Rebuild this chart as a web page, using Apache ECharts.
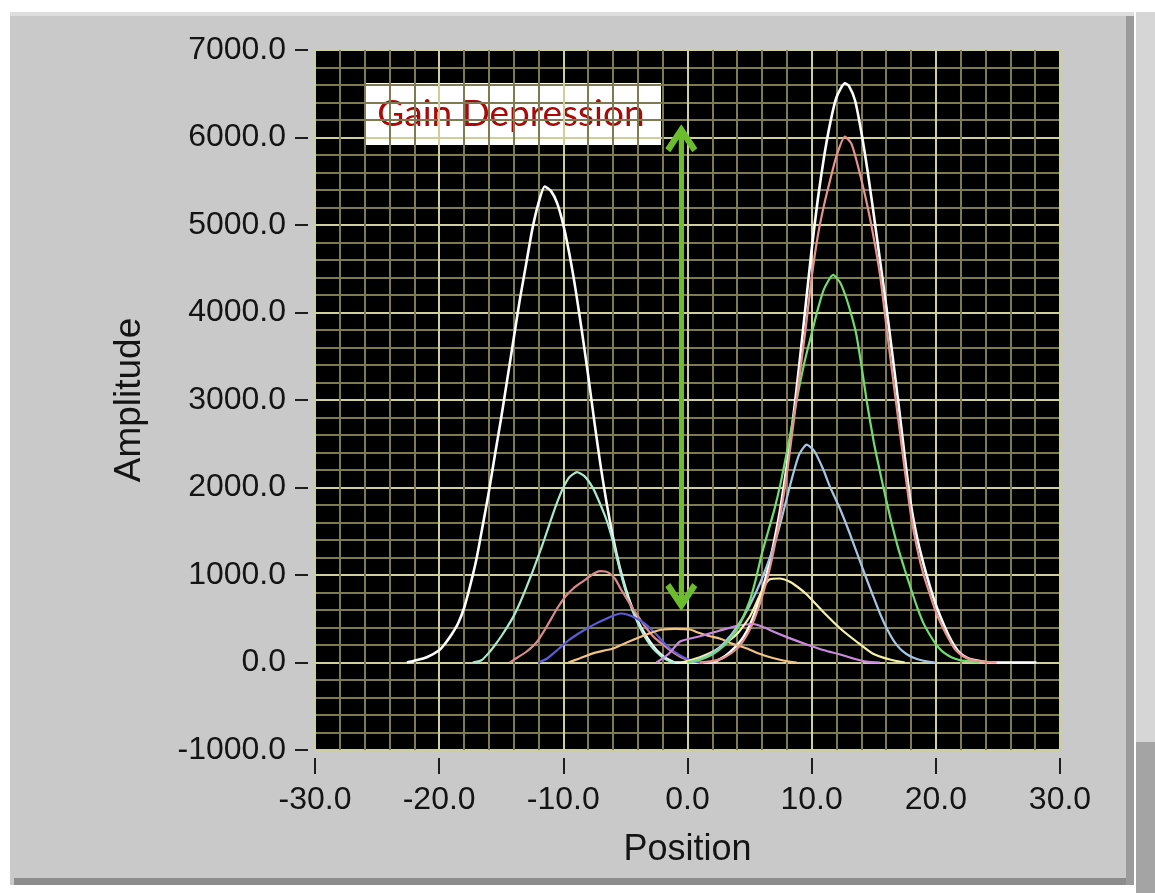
<!DOCTYPE html>
<html>
<head>
<meta charset="utf-8">
<script src="https://cdn.jsdelivr.net/npm/echarts@6/dist/echarts.min.js"></script>
<style>
  html, body { margin: 0; padding: 0; background: #ffffff; }
  #chart { width: 1155px; height: 893px; }
</style>
</head>
<body>
<div id="chart"></div>
<script>
// Axis ranges and steps
const xRange = [-30, 30];
const xStep = 10;
const yRange = [-1000, 7000];
const yStep = 1000;

// Traces: [position, amplitude]
const traceWhite = [
  [-22.6, 0], [-22, 20], [-21, 60], [-20, 140], [-19.5, 220], [-19, 320], [-18.5, 440],
  [-18, 620], [-17.5, 880], [-17, 1180], [-16.5, 1560], [-16, 1950], [-15.5, 2380],
  [-15, 2800], [-14.5, 3250], [-14, 3700], [-13.5, 4150], [-13, 4550], [-12.5, 4950],
  [-12, 5250], [-11.5, 5440], [-11, 5390], [-10.5, 5250], [-10, 5000], [-9.5, 4660],
  [-9, 4250], [-8.5, 3780], [-8, 3280], [-7.5, 2750], [-7, 2250], [-6.5, 1810], [-6, 1430],
  [-5.5, 1110], [-5, 850], [-4.5, 640], [-4, 470], [-3.5, 340], [-3, 230], [-2.5, 140],
  [-2, 75], [-1.5, 30], [-1, 0], [2, 0],
  [2.5, 30], [3, 70], [3.5, 130], [4, 200], [4.5, 290], [5, 420], [5.5, 600], [6, 820],
  [6.5, 1080], [7, 1400], [7.5, 1780], [8, 2250], [8.5, 2780], [9, 3400], [9.5, 4060],
  [10, 4720], [10.5, 5300], [11, 5780], [11.5, 6170], [12, 6460], [12.67, 6620], [13, 6590],
  [13.5, 6420], [14, 6060], [14.5, 5620], [15, 5120], [15.5, 4600], [16, 4080], [16.5, 3520],
  [17, 2950], [17.5, 2350], [18, 1800], [18.5, 1420], [19, 1130], [19.5, 880], [20, 660],
  [20.5, 480], [21, 320], [21.5, 190], [22, 100], [22.5, 55], [23, 30], [24, 5], [24.5, 0],
  [28.1, 0]
];
const traceMint = [
  [-17.3, 0], [-16.6, 25], [-16, 110], [-15.5, 200], [-15, 300], [-14.5, 410], [-14, 530],
  [-13.5, 680], [-13, 850], [-12.5, 1030], [-12, 1220], [-11.5, 1420], [-11, 1630],
  [-10.5, 1830], [-10, 2000], [-9.5, 2120], [-8.9, 2175], [-8.3, 2130], [-7.6, 1990],
  [-7, 1800], [-6.5, 1620], [-6, 1380], [-5.5, 1090], [-5, 830], [-4.5, 620], [-4, 450],
  [-3.5, 310], [-3, 200], [-2.5, 120], [-2, 60], [-1.5, 20], [-1, 0]
];
const tracePink = [
  [-14.3, 0], [-14, 30], [-13, 120], [-12.1, 240], [-11.3, 420], [-10.5, 617], [-9.8, 760],
  [-9.2, 846], [-8.6, 910], [-8.1, 960], [-7.5, 1020], [-7.05, 1045], [-6.6, 1040],
  [-6.25, 1017], [-5.8, 950], [-5.4, 846], [-4.9, 730], [-4.4, 617], [-3.8, 490],
  [-3.3, 389], [-2.7, 290], [-2, 206], [-1.3, 130], [-0.5, 60], [0.3, 20], [1, 0]
];
const traceBlue = [
  [-12, 0], [-11.3, 46], [-10.5, 140], [-9.7, 240], [-8.9, 320], [-8.1, 389], [-7.3, 450],
  [-6.5, 503], [-5.9, 540], [-5.4, 560], [-4.8, 545], [-4.1, 503], [-3.5, 450], [-3, 389],
  [-2.5, 320], [-2, 240], [-1.4, 160], [-0.7, 90], [0, 40], [0.7, 10], [1.3, 0]
];
const tracePeach = [
  [-9.6, 0], [-8.7, 46], [-7.5, 110], [-6, 160], [-4.7, 240], [-3.3, 320], [-2.5, 360],
  [-2, 377], [-1, 385], [0.2, 377], [0.9, 340], [1.8, 300], [2.6, 274], [3.7, 210],
  [4.8, 160], [5.8, 100], [6.8, 55], [7.8, 20], [8.8, 0]
];
const traceViolet = [
  [-2.5, 0], [-1.5, 100], [-0.6, 240], [1, 300], [2.5, 360], [4, 420], [5.3, 440], [6.2, 400],
  [6.9, 354], [8, 290], [9.6, 206], [11, 140], [12.3, 91], [13.5, 40], [14.4, 10], [15.5, 0]
];
const traceYellow = [
  [-0.5, 0], [1, 60], [2.5, 160], [4, 330], [5, 520], [5.8, 760], [6.3, 900], [6.6, 949],
  [7.4, 960], [8.2, 926], [8.9, 860], [9.6, 777], [10.9, 583], [12.3, 389], [13.6, 240],
  [14.9, 103], [16.3, 34], [17.5, 0]
];
const traceSky = [
  [0, 0], [1, 40], [2, 110], [3, 230], [4, 410], [5, 650], [6, 960], [7, 1350], [7.5, 1600],
  [8, 1880], [8.5, 2150], [9, 2380], [9.6, 2490], [10.2, 2420], [10.9, 2217], [11.5, 2000],
  [12.27, 1760], [13, 1500], [13.6, 1269], [14.3, 1000], [14.9, 777], [15.5, 560],
  [16.05, 389], [16.6, 250], [17.1, 160], [17.6, 100], [18.2, 55], [19, 20], [20, 0]
];
const traceGreen = [
  [0, 0], [1, 30], [2, 90], [3, 200], [4, 380], [5, 700], [5.5, 950], [6, 1250], [6.5, 1500],
  [7, 1750], [7.5, 2050], [8, 2400], [8.5, 2780], [9, 3150], [9.5, 3480], [10, 3760],
  [10.5, 4040], [11, 4270], [11.73, 4430], [12.3, 4340], [12.8, 4160], [13.3, 3920],
  [13.6, 3745], [14, 3400], [14.44, 2983], [15, 2520], [15.5, 2180], [16, 1860],
  [16.5, 1560], [17, 1290], [17.5, 1060], [18, 840], [18.5, 630], [19, 450], [19.5, 320],
  [20, 210], [20.5, 130], [21, 80], [21.5, 45], [22, 25], [23, 10], [23.5, 0]
];
const traceSalmon = [
  [1, 0], [2, 15], [3, 60], [4, 160], [4.5, 250], [5, 370], [5.5, 540], [6, 750], [6.5, 1000],
  [7, 1320], [7.5, 1700], [8, 2150], [8.5, 2700], [9, 3250], [9.5, 3800], [10, 4400],
  [10.5, 4880], [11, 5230], [11.5, 5520], [12, 5790], [12.67, 6010], [13.2, 5930],
  [13.9, 5577], [14.7, 5074], [15.5, 4434], [16, 3863], [16.5, 3300], [17, 2750], [17.5, 2200],
  [18, 1680], [18.5, 1300], [19, 1010], [19.5, 790], [20, 580], [20.5, 420], [21, 280],
  [21.5, 160], [22, 90], [22.5, 50], [23, 25], [24, 8], [24.9, 0]
];

// Gain depression marker: from the depressed level up to the peak level
const gainArrow = [[-0.5, 5980], [-0.5, 760]];

const traces = [
  { data: traceWhite, color: '#ffffff', width: 2.6 },
  { data: traceMint, color: '#a6ead0', width: 2.2 },
  { data: tracePink, color: '#d98a8a', width: 2.2 },
  { data: traceBlue, color: '#5c5cd8', width: 2.2 },
  { data: tracePeach, color: '#f0c284', width: 2.2 },
  { data: traceViolet, color: '#c88ae0', width: 2.2 },
  { data: traceYellow, color: '#f4f2a8', width: 2.2 },
  { data: traceSky, color: '#a4c6e6', width: 2.2 },
  { data: traceGreen, color: '#70dc70', width: 2.2 },
  { data: traceSalmon, color: '#e8928e', width: 2.2 }
];

const labelFont = "'Liberation Sans', Arial, sans-serif";
const chevron = 'path://M16,0 L32,24 L27,28 L18.5,15 L18.5,30 L13.5,30 L13.5,15 L5,28 L0,24 Z';

const chart = echarts.init(document.getElementById('chart'), null, { renderer: 'canvas' });

const series = traces.map(t => ({
  type: 'line',
  data: t.data,
  showSymbol: false,
  smooth: 0.2,
  lineStyle: { color: t.color, width: t.width },
  itemStyle: { color: t.color },
  silent: true,
  animation: false
}));

series.push({
  type: 'line',
  data: [],
  silent: true,
  animation: false,
  markLine: {
    silent: true,
    animation: false,
    symbol: [chevron, chevron],
    symbolSize: [32, 30],
    label: { show: false },
    lineStyle: { color: '#6cbd2e', width: 5, type: 'solid' },
    data: [[{ coord: gainArrow[0] }, { coord: gainArrow[1] }]]
  }
});

const axisCommon = {
  type: 'value',
  axisLine: { show: false, onZero: false },
  splitLine: { show: true, lineStyle: { color: '#cfcf9c', width: 2 } },
  minorTick: { show: false, splitNumber: 5 },
  minorSplitLine: { show: true, lineStyle: { color: '#7e7b52', width: 2 } }
};

chart.setOption({
  backgroundColor: '#ffffff',
  animation: false,
  graphic: [
    { type: 'rect', z: -10, shape: { x: 10, y: 12, width: 1124, height: 873 }, style: { fill: '#c9c9c9' } },
    { type: 'rect', z: -9, shape: { x: 10, y: 12, width: 1124, height: 4 }, style: { fill: '#dedede' } },
    { type: 'rect', z: -9, shape: { x: 14, y: 878, width: 1120, height: 7 }, style: { fill: '#8c8c8c' } },
    { type: 'rect', z: -9, shape: { x: 1126, y: 16, width: 8, height: 869 }, style: { fill: '#9a9a9a' } },
    { type: 'rect', z: -9, shape: { x: 1136, y: 12, width: 19, height: 730 }, style: { fill: '#d6d6d6' } },
    { type: 'rect', z: -9, shape: { x: 1136, y: 742, width: 19, height: 151 }, style: { fill: '#a4a4a4' } },
    {
      type: 'group', z: 100,
      children: [
        { type: 'rect', shape: { x: 365, y: 83, width: 296, height: 62 }, style: { fill: '#ffffff' } },
        {
          type: 'text', x: 511, y: 114,
          style: {
            text: 'Gain Depression', fill: '#a80a0a', font: '37px Lato, "Open Sans", sans-serif',
            align: 'center', verticalAlign: 'middle'
          }
        }
      ]
    }
  ],
  grid: {
    left: 315, right: 95, top: 50, bottom: 143,
    show: true, backgroundColor: '#000000', borderWidth: 0
  },
  xAxis: Object.assign({}, axisCommon, {
    min: xRange[0], max: xRange[1], interval: xStep,
    offset: 8,
    name: 'Position', nameLocation: 'middle', nameGap: 74,
    nameTextStyle: { fontFamily: labelFont, fontSize: 36, color: '#141414' },
    axisTick: { show: true, length: 16, lineStyle: { color: '#1e1e1e', width: 2 } },
    axisLabel: {
      margin: 26, fontFamily: labelFont, fontSize: 32, color: '#141414',
      formatter: v => v.toFixed(1)
    }
  }),
  yAxis: Object.assign({}, axisCommon, {
    min: yRange[0], max: yRange[1], interval: yStep,
    offset: 7,
    name: 'Amplitude', nameLocation: 'middle', nameGap: 160, nameRotate: 90,
    nameTextStyle: { fontFamily: labelFont, fontSize: 37, color: '#141414' },
    axisTick: { show: true, length: 13, lineStyle: { color: '#1e1e1e', width: 2 } },
    axisLabel: {
      margin: 22, fontFamily: labelFont, fontSize: 32, color: '#141414',
      formatter: v => v.toFixed(1)
    }
  }),
  series: series
});
</script>
</body>
</html>
